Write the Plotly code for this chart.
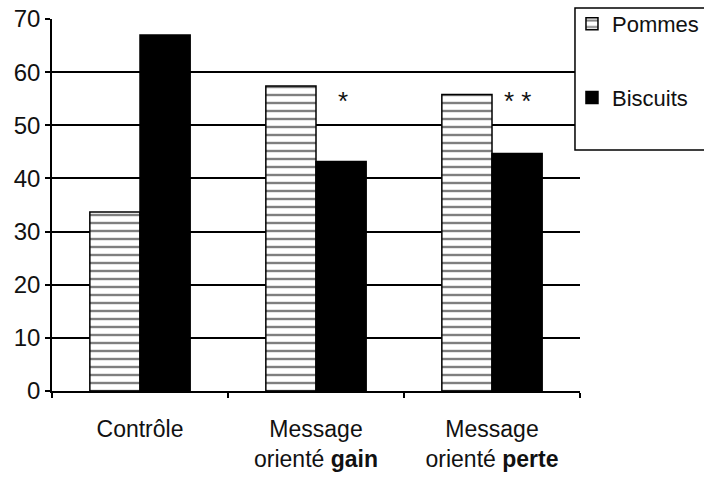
import plotly.graph_objects as go

categories = ["Contrôle", "Message<br>orienté <b>gain</b>", "Message<br>orienté <b>perte</b>"]
pommes = [33.7, 57.4, 55.8]
biscuits = [67.0, 43.2, 44.7]
series_names = ["Pommes", "Biscuits"]
y_ticks = [0, 10, 20, 30, 40, 50, 60, 70]
stars = ["", "*", "* *"]
star_y = [0, 54.6, 54.6]
star_shift = [0, 27, 25]

FONT = "Arial, Liberation Sans, sans-serif"
INK = "#111111"

fig = go.Figure()
fig.add_trace(go.Bar(
    x=categories, y=pommes, name=series_names[0], legendgroup="a",
    marker=dict(color="white",
                line=dict(color="black", width=1.5),
                pattern=dict(shape="-", fgcolor="black", bgcolor="white",
                             size=8, solidity=0.3, fillmode="overlay")),
))
fig.add_trace(go.Bar(
    x=categories, y=biscuits, name=series_names[1], legendgroup="b",
    marker=dict(color="black", line=dict(color="black", width=1.5)),
))

for c, s, yv, sh in zip(categories, stars, star_y, star_shift):
    if s:
        fig.add_annotation(x=c, y=yv, text=s, showarrow=False, xshift=sh,
                           font=dict(family=FONT, size=26, color=INK),
                           yanchor="middle")

# legend frame (extends past the right edge, as in the reference)
fig.add_shape(type="rect", xref="paper", yref="paper",
              x0=0.9905, x1=1.4, y0=0.648, y1=1.0296,
              fillcolor="white", line=dict(color="black", width=1.5), layer="above")

fig.update_layout(
    width=704, height=481,
    margin=dict(l=52, r=124, t=19, b=90, autoexpand=False),
    paper_bgcolor="white", plot_bgcolor="white",
    barmode="group", bargap=0.43, bargroupgap=0,
    font=dict(family=FONT, size=22, color=INK),
    legend=dict(x=0.9848, xanchor="left", y=1.043, yanchor="top",
                borderwidth=0, bgcolor="rgba(0,0,0,0)",
                font=dict(family=FONT, size=22, color=INK),
                tracegroupgap=42, traceorder="grouped"),
    showlegend=True,
)
fig.update_yaxes(range=[0, 70], tickvals=y_ticks, showgrid=True, gridcolor="black",
                 gridwidth=1.5, showline=True, linecolor="black", linewidth=1.5,
                 ticks="outside", ticklen=5, tickcolor="black", tickwidth=1.5,
                 zeroline=False, tickfont=dict(size=24, color=INK))
fig.update_xaxes(showline=True, linecolor="black", linewidth=1.5, ticks="outside",
                 tickson="boundaries", ticklen=5, tickcolor="black", tickwidth=1.5,
                 ticklabelstandoff=17,
                 tickfont=dict(size=23, color=INK))

fig.write_html("out.html", config={"displayModeBar": False},
               post_script="document.body.style.margin='0px';")
